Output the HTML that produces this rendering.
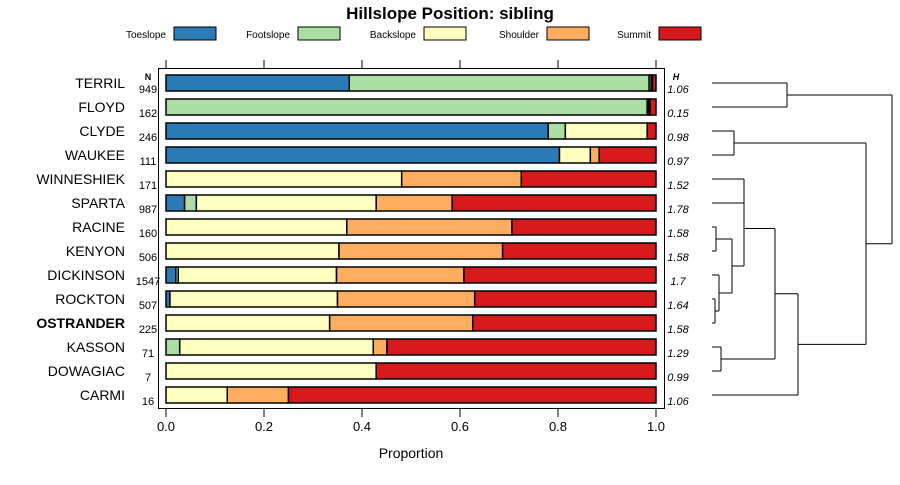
<!DOCTYPE html>
<html><head><meta charset="utf-8"><style>body{margin:0;background:#fff}svg{font-family:"Liberation Sans",sans-serif}</style></head>
<body>
<svg id="c" width="900" height="480"></svg>
<script>
const categories=["TERRIL","FLOYD","CLYDE","WAUKEE","WINNESHIEK","SPARTA","RACINE","KENYON","DICKINSON","ROCKTON","OSTRANDER","KASSON","DOWAGIAC","CARMI"];
const seriesNames=["Toeslope","Footslope","Backslope","Shoulder","Summit"];
const toeslope=[0.374,0,0.78,0.803,0,0.038,0,0,0.02,0.008,0,0,0,0];
const footslope=[0.612,0.982,0.035,0,0,0.024,0,0,0.005,0,0,0.028,0,0];
const backslope=[0.004,0.003,0.167,0.063,0.481,0.367,0.369,0.353,0.323,0.342,0.334,0.395,0.429,0.125];
const shoulder=[0.003,0.003,0,0.018,0.244,0.155,0.337,0.334,0.26,0.28,0.292,0.028,0,0.125];
const summit=[0.007,0.012,0.018,0.116,0.275,0.416,0.294,0.313,0.392,0.37,0.374,0.549,0.571,0.75];
const nValues=["949","162","246","111","171","987","160","506","1547","507","225","71","7","16"];
const hValues=["1.06","0.15","0.98","0.97","1.52","1.78","1.58","1.58","1.7","1.64","1.58","1.29","0.99","1.06"];
const ticks=[0,0.2,0.4,0.6,0.8,1.0];
const colors=["#2C7BB6","#ABDDA4","#FFFFBF","#FDAE61","#D7191C"];
const series=[toeslope,footslope,backslope,shoulder,summit];
const svg=document.getElementById('c');const NS="http://www.w3.org/2000/svg";
function el(t,a,txt){const e=document.createElementNS(NS,t);for(const k in a)e.setAttribute(k,a[k]);if(txt!==undefined)e.textContent=txt;svg.appendChild(e);return e;}
const x=v=>166+v*490;const y=i=>83+i*24;
let e=el('text',{x:450,y:19,'text-anchor':'middle','font-size':17,'font-weight':'bold'},'Hillslope Position: sibling');

const legX=[174,298,424,547,659];
seriesNames.forEach((n,k)=>{
 e=el('text',{x:legX[k]-8,y:38,'text-anchor':'end','font-size':10},n);
 
 e=el('rect',{x:legX[k],y:27,width:42,height:13,fill:colors[k],stroke:'#000','stroke-width':1});
 
});
e=el('rect',{x:158.5,y:68.5,width:506,height:340,fill:'none',stroke:'#000','stroke-width':1});

ticks.forEach(t=>{
 e=el('line',{x1:x(t),x2:x(t),y1:60,y2:68,stroke:'#000'});
 e=el('line',{x1:x(t),x2:x(t),y1:409,y2:417,stroke:'#000'});
 e=el('text',{x:x(t),y:431,'text-anchor':'middle','font-size':13},t.toFixed(1));
});
e=el('text',{x:411,y:458,'text-anchor':'middle','font-size':14},'Proportion');
e=el('text',{x:148,y:80,'text-anchor':'middle','font-size':9,'font-weight':'bold'},'N');
e=el('text',{x:676,y:80,'text-anchor':'middle','font-size':9,'font-weight':'bold','font-style':'italic'},'H');
categories.forEach((c,i)=>{
 e=el('text',{x:125,y:y(i)+5,'text-anchor':'end','font-size':14,'font-weight':c==='OSTRANDER'?'bold':'normal'},c);
 
 e=el('text',{x:148,y:y(i)+10,'text-anchor':'middle','font-size':11},nValues[i]);
 
 e=el('text',{x:678,y:y(i)+10,'text-anchor':'middle','font-size':11,'font-style':'italic'},hValues[i]);
 
 let cum=0;
 series.forEach((s,k)=>{const v=s[i];if(v>0){
  e=el('rect',{x:x(cum),y:y(i)-8,width:v*490,height:16,fill:colors[k],stroke:'#000','stroke-width':1.5});
  }
  cum+=v;});
});
function L(x1,y1,x2,y2){e=el('line',{x1,y1,x2,y2,stroke:'#000','stroke-width':1});}
function node(a,b,hx){const ya=a.y,yb=b.y;L(a.x,ya,hx,ya);L(b.x,yb,hx,yb);L(hx,ya,hx,yb);return {x:hx,y:(ya+yb)/2};}
const leaf=i=>({x:712,y:y(i)});
const n01=node(leaf(0),leaf(1),787);
const n23=node(leaf(2),leaf(3),734);
const n45=node(leaf(4),leaf(5),744);
const n67=node(leaf(6),leaf(7),716);
const n910=node(leaf(9),leaf(10),715);
const n8=node(leaf(8),n910,719);
const n6_10=node(n67,n8,732);
const n4_10=node(n45,n6_10,744);
const n1112=node(leaf(11),leaf(12),721);
const n4_12=node(n4_10,n1112,775);
const n4_13=node(n4_12,leaf(13),798);
const n2_13=node(n23,n4_13,866);
node(n01,n2_13,892);
</script>
</body></html>
